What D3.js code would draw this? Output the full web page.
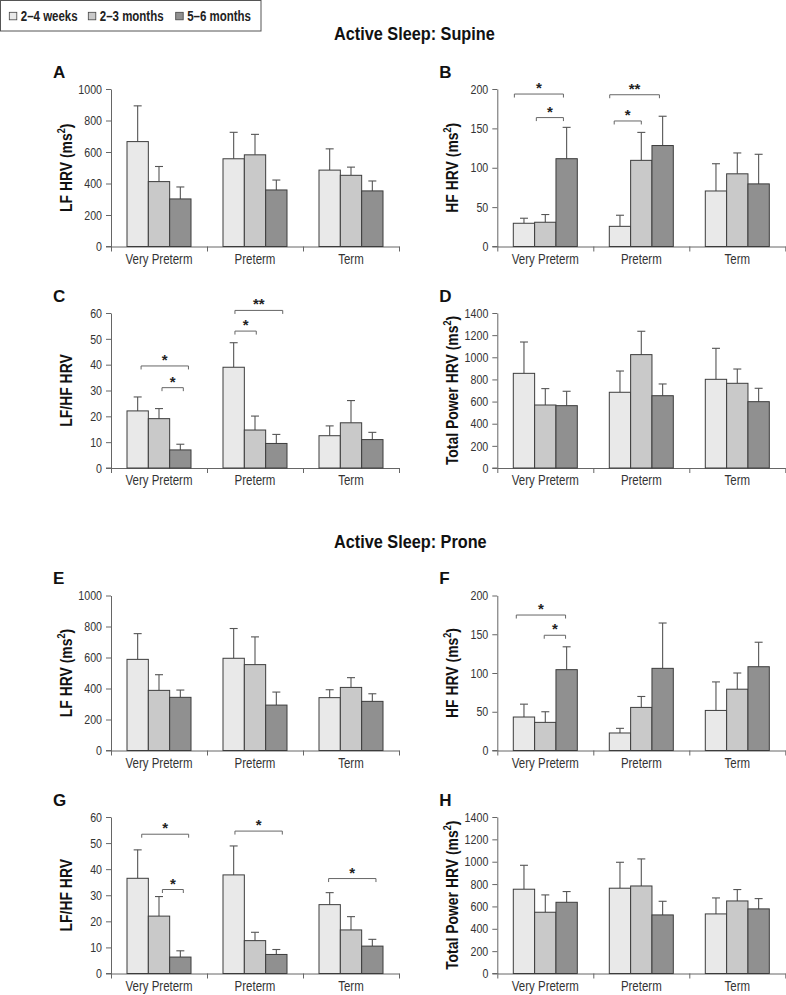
<!DOCTYPE html>
<html>
<head>
<meta charset="utf-8">
<script src="https://cdn.jsdelivr.net/npm/d3@7"></script>
<style>
  html, body { margin: 0; padding: 0; background: #fff; }
  svg { display: block; }
</style>
</head>
<body>
<script>
// ---------- data ----------
const categories = ["Very Preterm", "Preterm", "Term"];
const seriesNames = ["2–4 weeks", "2–3 months", "5–6 months"];
const seriesColors = ["#e9e9e9", "#c9c9c9", "#909090"];

// means [group][series] and upper error-bar ends [group][series]
const lfSupineMean   = [[666, 412, 302], [557, 582, 359], [485, 452, 353]];
const lfSupineErr    = [[893, 508, 378], [725, 712, 422], [620, 504, 416]];
const hfSupineMean   = [[29.5, 30.8, 111.5], [25.6, 109.4, 128.2], [70.5, 92.3, 79.5]];
const hfSupineErr    = [[35.9, 40.6, 151.3], [39.7, 144.9, 165.4], [105.1, 118.8, 117.1]];
const ratioSupineMean = [[22.1, 19.1, 7.0], [39.0, 14.7, 9.5], [12.5, 17.5, 11.0]];
const ratioSupineErr  = [[27.5, 23.0, 9.2], [48.5, 20.1, 13.0], [16.3, 26.1, 13.8]];
const totalSupineMean = [[855, 569, 563], [684, 1024, 653], [801, 765, 599]];
const totalSupineErr  = [[1138, 717, 693], [876, 1235, 759], [1081, 894, 720]];

const lfProneMean    = [[588, 388, 343], [595, 554, 293], [341, 407, 317]];
const lfProneErr     = [[754, 489, 390], [787, 733, 377], [392, 470, 366]];
const hfProneMean    = [[43.2, 36.3, 104.3], [22.6, 55.6, 106], [51.7, 79.1, 108.1]];
const hfProneErr     = [[59.8, 50, 133.8], [28.6, 69.7, 164.5], [88.5, 100, 139.7]];
const ratioProneMean = [[36.5, 22.0, 6.3], [37.8, 12.6, 7.3], [26.4, 16.7, 10.5]];
const ratioProneErr  = [[47.4, 29.5, 8.7], [48.9, 15.8, 9.2], [31.0, 21.8, 13.1]];
const totalProneMean = [[754, 548, 637], [763, 783, 524], [533, 649, 578]];
const totalProneErr  = [[968, 703, 733], [995, 1025, 646], [676, 751, 670]];

// significance brackets: [group, from (bar units), to (bar units), y value, label]
const bracketsB = [[0, 0.05, 2.35, 193.6, "*"], [0, 1.08, 2.35, 163.7, "*"], [1, 0.02, 2.35, 192.7, "**"], [1, 0.23, 1.5, 159.4, "*"]];
const bracketsC = [[0, 0.66, 2.88, 39.5, "*"], [0, 1.64, 2.64, 31.1, "*"], [1, 0.56, 2.8, 61.0, "**"], [1, 0.56, 1.56, 53.0, "*"]];
const bracketsF = [[0, 0.14, 2.45, 174.8, "*"], [0, 1.45, 2.45, 148.7, "*"]];
const bracketsG = [[0, 0.69, 2.89, 53.4, "*"], [0, 1.66, 2.64, 32.2, "*"], [1, 0.56, 2.78, 54.6, "*"], [2, 0.45, 2.67, 36.4, "*"]];

const ticksLF = [0, 200, 400, 600, 800, 1000];
const ticksHF = [0, 50, 100, 150, 200];
const ticksRatio = [0, 10, 20, 30, 40, 50, 60];
const ticksTotal = [0, 200, 400, 600, 800, 1000, 1200, 1400];

const headings = ["Active Sleep: Supine", "Active Sleep: Prone"];

// ---------- layout ----------
const W = 786, H = 995;
const colX = [111, 497.3];
const plotW = 288;
const rows = [[89, 246.5], [313, 468], [595.5, 750.5], [817, 973.5]];
const SQ = 0.82; // horizontal squeeze to emulate a narrow typeface

const panels = [
  { letter: "A", col: 0, row: 0, mean: lfSupineMean, err: lfSupineErr, max: 1000, ticks: ticksLF, label: ["LF HRV (ms", "2", ")"], brackets: [] },
  { letter: "B", col: 1, row: 0, mean: hfSupineMean, err: hfSupineErr, max: 200, ticks: ticksHF, label: ["HF HRV (ms", "2", ")"], brackets: bracketsB },
  { letter: "C", col: 0, row: 1, mean: ratioSupineMean, err: ratioSupineErr, max: 60, ticks: ticksRatio, label: ["LF/HF HRV"], brackets: bracketsC },
  { letter: "D", col: 1, row: 1, mean: totalSupineMean, err: totalSupineErr, max: 1400, ticks: ticksTotal, label: ["Total Power HRV (ms", "2", ")"], brackets: [] },
  { letter: "E", col: 0, row: 2, mean: lfProneMean, err: lfProneErr, max: 1000, ticks: ticksLF, label: ["LF HRV (ms", "2", ")"], brackets: [] },
  { letter: "F", col: 1, row: 2, mean: hfProneMean, err: hfProneErr, max: 200, ticks: ticksHF, label: ["HF HRV (ms", "2", ")"], brackets: bracketsF },
  { letter: "G", col: 0, row: 3, mean: ratioProneMean, err: ratioProneErr, max: 60, ticks: ticksRatio, label: ["LF/HF HRV"], brackets: bracketsG },
  { letter: "H", col: 1, row: 3, mean: totalProneMean, err: totalProneErr, max: 1400, ticks: ticksTotal, label: ["Total Power HRV (ms", "2", ")"], brackets: [] }
];

const svg = d3.select("body").append("svg").attr("width", W).attr("height", H);

const sans = '"Liberation Sans", Arial, sans-serif';

// ---------- legend ----------
const legend = svg.append("g");
legend.append("rect").attr("x", 0.5).attr("y", 0.5).attr("width", 260.5).attr("height", 30.5)
  .attr("fill", "#fff").attr("stroke", "#555").attr("stroke-width", 1);
const legX = [9.3, 88.3, 175.7];
seriesNames.forEach((s, i) => {
  legend.append("rect").attr("x", legX[i]).attr("y", 12.3).attr("width", 7.5).attr("height", 7.5)
    .attr("fill", seriesColors[i]).attr("stroke", "#444").attr("stroke-width", 0.8);
  legend.append("text").attr("transform", `translate(${legX[i] + 11.5},20.5) scale(${SQ},1)`)
    .attr("font-family", sans).attr("font-weight", "bold").attr("font-size", 14).attr("fill", "#222")
    .text(s);
});

// ---------- headings ----------
const headY = [40, 548];
headings.forEach((h, i) => {
  svg.append("text").attr("transform", `translate(334,${headY[i]}) scale(0.93,1)`)
    .attr("font-family", sans).attr("font-weight", "bold").attr("font-size", 17.5).attr("fill", "#111")
    .text(h);
});

// ---------- panels ----------
panels.forEach(p => {
  const x0 = colX[p.col];
  const [top, bottom] = rows[p.row];
  const g = svg.append("g").attr("transform", `translate(${x0},0)`);

  const y = d3.scaleLinear().domain([0, p.max]).range([bottom, top]);
  const xb = d3.scaleBand().domain(categories).range([0, plotW]).paddingInner(1 / 3).paddingOuter(1 / 6);
  const xs = d3.scaleBand().domain([0, 1, 2]).range([0, xb.bandwidth()]);
  const xl = d3.scaleLinear().domain([0, 3]).range([0, plotW]);

  // y axis
  const yAxis = g.append("g").call(d3.axisLeft(y).tickValues(p.ticks).tickFormat(d3.format("d"))
    .tickSize(5).tickSizeOuter(0).tickPadding(4));
  // x axis (group boundaries)
  const xAxis = g.append("g").attr("transform", `translate(0,${bottom})`)
    .call(d3.axisBottom(xl).tickValues([0, 1, 2, 3]).tickFormat("").tickSize(5).tickSizeOuter(0));
  [yAxis, xAxis].forEach(a => {
    a.selectAll("path,line").attr("stroke", "#666").attr("stroke-width", 1);
  });
  yAxis.selectAll("text")
    .attr("font-family", sans).attr("font-size", 13).attr("fill", "#333")
    .attr("x", -9 / SQ).attr("transform", `scale(${SQ},1)`);
  // extend baseline a bit left to the zero tick
  g.append("line").attr("x1", -5).attr("x2", 0).attr("y1", bottom).attr("y2", bottom).attr("stroke", "#666");

  // category labels
  g.selectAll(".cat").data(categories).enter().append("text")
    .attr("transform", d => `translate(${xb(d) + xb.bandwidth() / 2},${bottom + 17}) scale(${SQ},1)`)
    .attr("text-anchor", "middle").attr("font-family", sans).attr("font-size", 14).attr("fill", "#333")
    .text(d => d);

  // bars + error bars
  categories.forEach((c, gi) => {
    const gg = g.append("g").attr("transform", `translate(${xb(c)},0)`);
    [0, 1, 2].forEach(si => {
      const v = p.mean[gi][si], e = p.err[gi][si];
      const bx = xs(si), bw = xs.bandwidth(), cx = bx + bw / 2;
      gg.append("line").attr("x1", cx).attr("x2", cx).attr("y1", y(v)).attr("y2", y(e))
        .attr("stroke", "#555").attr("stroke-width", 1.1);
      gg.append("line").attr("x1", cx - 4).attr("x2", cx + 4).attr("y1", y(e)).attr("y2", y(e))
        .attr("stroke", "#555").attr("stroke-width", 1.1);
      gg.append("rect").attr("x", bx).attr("y", y(v)).attr("width", bw).attr("height", bottom - y(v))
        .attr("fill", seriesColors[si]).attr("stroke", "#3c3c3c").attr("stroke-width", 1);
    });
  });

  // significance brackets
  const unit = xs.bandwidth();
  p.brackets.forEach(([gi, f, t, v, lab]) => {
    const gx = xb(categories[gi]);
    const x1 = gx + f * unit, x2 = gx + t * unit, yy = y(v);
    g.append("path").attr("d", `M${x1},${yy + 3.5}V${yy}H${x2}V${yy + 3.5}`)
      .attr("fill", "none").attr("stroke", "#666").attr("stroke-width", 1);
    g.append("text").attr("x", (x1 + x2) / 2).attr("y", yy - 1)
      .attr("text-anchor", "middle").attr("font-family", sans).attr("font-weight", "bold")
      .attr("font-size", 15).attr("fill", "#222").text(lab);
  });

  // y label
  const lab = g.append("text")
    .attr("transform", `translate(-39,${(top + bottom) / 2}) rotate(-90) scale(${SQ},1)`)
    .attr("text-anchor", "middle").attr("font-family", sans).attr("font-weight", "bold")
    .attr("font-size", 17).attr("fill", "#111");
  lab.append("tspan").text(p.label[0]);
  if (p.label.length > 1) {
    lab.append("tspan").attr("font-size", 11).attr("dy", -7).text(p.label[1]);
    lab.append("tspan").attr("dy", 7).text(p.label[2]);
  }

  // panel letter
  svg.append("text").attr("x", x0 - 58).attr("y", top - 11.5)
    .attr("font-family", sans).attr("font-weight", "bold").attr("font-size", 17).attr("fill", "#111")
    .text(p.letter);
});
</script>
</body>
</html>
